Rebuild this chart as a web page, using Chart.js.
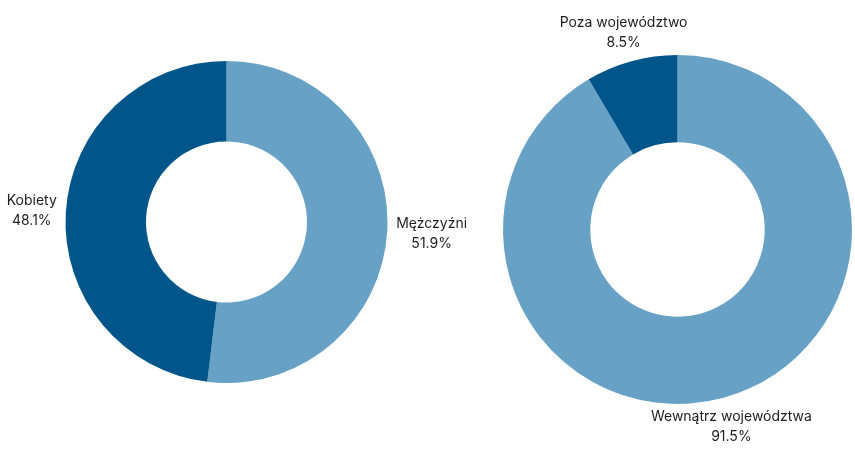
<!DOCTYPE html>
<html>
<head>
<meta charset="utf-8">
<script src="https://cdn.jsdelivr.net/npm/chart.js@4/dist/chart.umd.min.js"></script>
<style>
  html, body { margin: 0; padding: 0; background: #ffffff; }
  #wrap { position: relative; width: 855px; height: 449px; overflow: hidden; }
  .box { position: absolute; top: 0; height: 449px; }
</style>
</head>
<body>
<div id="wrap">
  <div class="box" style="left:0;width:500px;"><canvas id="c1"></canvas></div>
  <div class="box" style="left:380px;width:475px;"><canvas id="c2"></canvas></div>
</div>
<script>
const genderLabels = ['Mężczyźni', 'Kobiety'];
const genderValues = [51.9, 48.1];
const regionLabels = ['Wewnątrz województwa', 'Poza województwo'];
const regionValues = [91.5, 8.5];
const sliceColors = ['#67a1c6', '#00568a'];

const FONT = '14px Inter, "DejaVu Sans", sans-serif';
const LINE_H = 20;
const GAP = 9;

const outsideLabels = {
  id: 'outsideLabels',
  afterDatasetsDraw(chart) {
    const ctx = chart.ctx;
    const meta = chart.getDatasetMeta(0);
    const labels = chart.data.labels;
    const values = chart.data.datasets[0].data;
    ctx.save();
    ctx.font = FONT;
    ctx.fillStyle = '#1e1e1e';
    ctx.textAlign = 'center';
    ctx.textBaseline = 'middle';
    meta.data.forEach((arc, i) => {
      const p = arc.getProps(['x', 'y', 'startAngle', 'endAngle', 'outerRadius'], true);
      const mid = (p.startAngle + p.endAngle) / 2;
      const c = Math.cos(mid), s = Math.sin(mid);
      const lines = [labels[i], values[i].toFixed(1) + '%'];
      const w = Math.max(...lines.map(t => ctx.measureText(t).width));
      const h = LINE_H * lines.length;
      const dx = Math.abs(c) > 1e-6 ? (w / 2) / Math.abs(c) : Infinity;
      const dy = Math.abs(s) > 1e-6 ? (h / 2) / Math.abs(s) : Infinity;
      const d = p.outerRadius + GAP + Math.min(dx, dy);
      const cx = p.x + c * d;
      const cy = p.y + s * d;
      lines.forEach((t, k) => {
        ctx.fillText(t, cx, cy - h / 2 + LINE_H / 2 + k * LINE_H);
      });
    });
    ctx.restore();
  }
};

function makeChart(id, labels, values, padding) {
  return new Chart(document.getElementById(id), {
    type: 'doughnut',
    data: {
      labels: labels,
      datasets: [{
        data: values,
        backgroundColor: sliceColors,
        borderWidth: 0,
        hoverOffset: 0
      }]
    },
    options: {
      responsive: true,
      maintainAspectRatio: false,
      animation: false,
      cutout: '50%',
      layout: { padding: padding },
      plugins: {
        legend: { display: false },
        tooltip: { enabled: false }
      }
    },
    plugins: [outsideLabels]
  });
}

makeChart('c1', genderLabels, genderValues, { left: 65, top: 61, right: 112, bottom: 66 });
makeChart('c2', regionLabels, regionValues, { left: 123, top: 55, right: 3, bottom: 45 });
</script>
</body>
</html>
